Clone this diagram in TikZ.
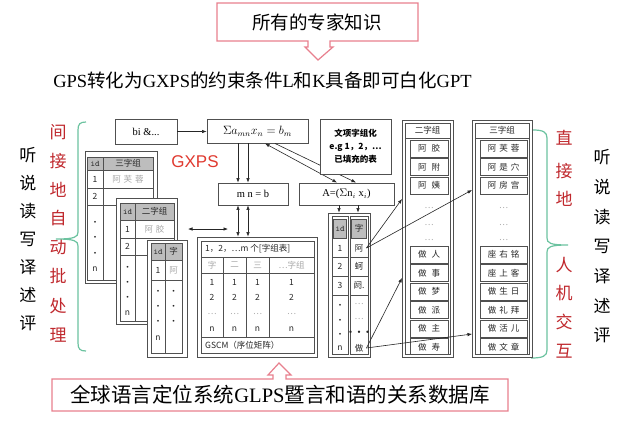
\documentclass[tikz,border=0pt]{standalone}
\usepackage{fontspec}
\setmainfont{Liberation Serif}
\newfontfamily\cjk{Noto Sans CJK SC}
\newfontfamily\sansf{Liberation Sans}
\usetikzlibrary{arrows.meta}
\definecolor{pinkc}{HTML}{E8808E}
\definecolor{greenc}{HTML}{6CC3A0}
\definecolor{redt}{HTML}{C0282D}
\definecolor{gxps}{HTML}{E03A30}
\definecolor{tline}{HTML}{505050}
\definecolor{hdr}{HTML}{BDBDBD}
\definecolor{faint}{HTML}{A8A8A8}
\begin{document}
\begin{tikzpicture}[x=1pt,y=-1pt,
  box/.style={draw=tline, line width=0.9pt, fill=white, inner sep=0pt},
  tl/.style={draw=tline, line width=0.6pt},
  hd/.style={draw=tline, line width=0.6pt, fill=hdr},
  tx/.style={font=\cjk\fontsize{8.5}{9}\selectfont, inner sep=0pt, text=black!85},
  fx/.style={tx, text=faint},
  arr/.style={-{Latex[length=4.5pt,width=3.5pt]}, line width=0.6pt, draw=black!85},
  darr/.style={{Latex[length=4.5pt,width=3.5pt]}-{Latex[length=4.5pt,width=3.5pt]}, line width=0.6pt, draw=black!85},
  bx/.style={draw=tline, line width=0.9pt, fill=white, inner sep=1pt, font=\cjk\fontsize{10.5}{12}\selectfont},
  brace/.style={draw=greenc, line width=1.2pt},
  side/.style={font=\cjk\fontsize{17}{17}\selectfont, inner sep=0pt},
  redside/.style={side, text=redt},
  callout/.style={draw=pinkc, line width=1.2pt, fill=white}]
\useasboundingbox (0,0) rectangle (628,432);
\fill[white] (0,0) rectangle (628,432);

% ---------- top callout and title
\draw[callout] (217,3) -- (418,3) -- (418,41) -- (330,41) -- (330,47) -- (333,47) -- (318,60) -- (305,47) -- (308,47) -- (308,41) -- (217,41) -- cycle;
\node[font=\cjk\fontsize{18.5}{20}\selectfont] (know) at (317,22) {所有的专家知识};
\node[font=\fontsize{18.5}{20}\selectfont] (title) at (262.5,80) {GPS{\cjk 转化为}GXPS{\cjk 的约束条件}L{\cjk 和}K{\cjk 具备即可白化}GPT};

% ---------- bottom callout
\draw[callout] (52,379) -- (273,379) -- (273,375) -- (268,375) -- (279,363) -- (291,375) -- (286,375) -- (286,379) -- (508,379) -- (508,411) -- (52,411) -- cycle;
\node[font=\fontsize{20.5}{22}\selectfont] (db) at (280,395) {{\cjk 全球语言定位系统}GLPS{\cjk 暨言和语的关系数据库}};

% ---------- side texts
\foreach \c [count=\i from 0] in {听,说,读,写,译,述,评} {
  \node[side] (l\i) at (28,155+28*\i) {\c};
  \node[side] (r\i) at (602,157+29.8*\i) {\c};
}
\foreach \c/\y [count=\i] in {间/132,接/161,地/190,自/218,动/247,批/276,处/306,理/335}
  \node[redside] (lr\i) at (58,\y) {\c};
\foreach \c/\y [count=\i] in {直/138,接/171,地/199,人/265,机/293,交/322,互/351}
  \node[redside] (rr\i) at (564,\y) {\c};

% ---------- braces
\draw[brace] (86,122) .. controls (80,122) and (78,124) .. (78,130) -- (78,232)
  .. controls (78,237) and (75,239) .. (56,239)
  .. controls (75,239) and (78,241) .. (78,246) -- (78,343)
  .. controls (78,349) and (80,351) .. (86,351);
\draw[brace] (533,130) .. controls (543,130) and (547,132) .. (547,138) -- (547,238)
  .. controls (547,243) and (550,245) .. (568,245)
  .. controls (550,245) and (547,247) .. (547,252) -- (547,350)
  .. controls (547,356) and (543,358) .. (531,358);

% ---------- GXPS label
\node[font=\sansf\fontsize{17}{17}\selectfont, text=gxps] (gx) at (195,162) {GXPS};

% ---------- top row boxes
\node[bx, minimum width=62, minimum height=25] (bi) at (146,131.5) {\rmfamily bi \&...};
\node[bx, minimum width=101, minimum height=24] (sig) at (257.5,131) {\fontsize{11.5}{12}\selectfont$\Sigma a_{mn}x_n=b_m$};
\node[bx, minimum width=70, minimum height=22] (mn) at (253,194) {\rmfamily m n = b};
\node[bx, minimum width=95, minimum height=22] (A) at (346.5,194) {\rmfamily A=($\Sigma$n$_i$ x$_i$)};
\draw[arr] (bi.east) -- (sig.west |- bi.east);
\coordinate (d1) at (265,0); \coordinate (d2) at (275,0);
\coordinate (e1) at (337,0); \coordinate (e2) at (356,0);
\draw[darr] (sig.south -| d1) -- (A.north -| e1);
\draw[arr] (sig.south -| d2) -- (A.north -| e2);
\node[bx, minimum width=71, minimum height=55, align=center, font=\cjk\bfseries\fontsize{8.5}{13}\selectfont] (wx) at (355.5,146.5) {文项字组化\\e.g 1，2，…\\已填充的表};
\coordinate (v1) at (238,0); \coordinate (v2) at (248,0);
\draw[arr] (sig.south -| v1) -- (mn.north -| v1);
\draw[arr] (sig.south -| v2) -- (mn.north -| v2);

% ---------- left stacked tables
% table 1
\node[box, minimum width=72, minimum height=132] (t1) at (121,217) {};
\draw[tl] (87,157) rectangle (153,280);
\draw[hd] (87,157) rectangle (103,170); \draw[hd] (103,157) rectangle (153,170);
\draw[tl] (87,188) -- (153,188); \draw[tl] (87,205) -- (153,205); \draw[tl] (103,170) -- (103,280);
\node[tx] at (95,163.5) {\ttfamily id}; \node[tx] at (128,163.5) {三字组};
\node[tx] at (95,179) {1}; \node[fx] at (128,179) {阿\hspace{3pt}芙\hspace{3pt}蓉};
\node[tx] at (95,196.5) {2};
\foreach \y in {223,238,254} \node[tx] at (95,\y) {•};
\node[tx] at (95,269) {n};
% table 2
\node[box, minimum width=61, minimum height=126] (t2) at (146.5,261) {};
\draw[tl] (120,203) rectangle (174,321);
\draw[hd] (120,203) rectangle (135,220); \draw[hd] (135,203) rectangle (174,220);
\draw[tl] (120,238) -- (174,238); \draw[tl] (120,255) -- (174,255); \draw[tl] (135,220) -- (135,321);
\node[tx] at (127.5,211.5) {\ttfamily id}; \node[tx] at (154.5,211.5) {二字组};
\node[tx] at (127.5,229) {1}; \node[fx] at (154.5,229) {阿\hspace{3pt}胶};
\node[tx] at (127.5,246.5) {2};
\foreach \y in {268,283,298} \node[tx] at (127.5,\y) {•};
\node[tx] at (127.5,313) {n};
% table 3
\node[box, minimum width=40, minimum height=117] (t3) at (167,298.5) {};
\draw[tl] (151,243) rectangle (182,353);
\draw[hd] (151,243) rectangle (165,260); \draw[hd] (165,243) rectangle (182,260);
\draw[tl] (151,280) -- (182,280); \draw[tl] (165,260) -- (165,353);
\node[tx] at (158,251.5) {\ttfamily id}; \node[tx] at (173.5,251.5) {字};
\node[tx] at (158,270) {1}; \node[fx] at (173.5,270) {阿};
\foreach \y in {292,307,322} {\node[tx] at (158,\y) {•}; \node[tx] at (173.5,\y) {·};}
\node[tx] at (158,338) {n};
\coordinate (h1) at (188,229); \coordinate (h2) at (228,229);
\draw[darr] (h1) -- (h2);

% ---------- GSCM table
\node[box, minimum width=120, minimum height=120] (gs) at (257,297) {};
\draw[darr] (mn.south -| v1) -- (gs.north -| v1);
\draw[darr] (mn.south -| v2) -- (gs.north -| v2);
\draw[tl] (201,241) rectangle (314,353);
\foreach \y in {257,273,337} \draw[tl] (201,\y) -- (314,\y);
\foreach \x in {223,246,269} \draw[tl] (\x,257) -- (\x,337);
\node[tx, anchor=west] at (205,249) {1，2，…m 个[字组表]};
\node[fx] at (212,265) {字}; \node[fx] at (234.5,265) {二}; \node[fx] at (257.5,265) {三}; \node[fx] at (291.5,265) {…字组};
\foreach \x in {212,234.5,257.5,291.5} {
  \node[tx] at (\x,282) {1}; \node[tx] at (\x,297) {2};
  \node[fx] at (\x,314) {…}; \node[tx] at (\x,329) {n};
}
\node[tx, anchor=west] at (205,345) {GSCM（序位矩阵）};

% ---------- middle column table
\node[box, minimum width=42, minimum height=144] (col) at (349,285) {};
\coordinate (c1) at (339,0); \coordinate (c2) at (358,0);
\draw[arr] (A.south -| c1) -- (col.north -| c1);
\draw[arr] (A.south -| c2) -- (col.north -| c2);
\draw[tl] (332,216) rectangle (348,354);
\draw[tl] (350,216) rectangle (368,354);
\draw[hd] (333.5,219) rectangle (346.5,238); \draw[hd] (351.5,219) rectangle (366.5,238);
\foreach \y in {257,276,295} {\draw[tl] (332,\y) -- (348,\y); \draw[tl] (350,\y) -- (368,\y);}
\node[tx] at (340,228.5) {\ttfamily id}; \node[tx] at (359,228.5) {字};
\node[tx] at (340,248) {1}; \node[tx] at (340,266) {2}; \node[tx] at (340,285) {3};
\foreach \y in {306,321,335} \node[tx] at (340,\y) {·};
\node[tx] at (340,348) {n};
\node[tx] (ca) at (359,248) {阿};
\node[tx] at (359,266) {蚵};
\node[tx] at (359,285) {阏.};
\node[fx] at (359,304) {…}; \node[fx] at (359,319) {…};
\node[tx] at (359,333) {\bfseries •••};
\node[tx] (cz) at (359,348) {做};

% ---------- right tables
\node[box, minimum width=51, minimum height=237] (rt2) at (427.5,238.5) {};
\draw[tl] (405,123) rectangle (450,354);
\draw[tl] (405,138) -- (450,138);
\node[tx] at (427.5,130.5) {二字组};
\node[box, minimum width=60, minimum height=237] (rt3) at (502,238.5) {};
\draw[tl] (475,123) rectangle (529,354);
\draw[tl] (475,138) -- (529,138);
\node[tx] at (502,130.5) {三字组};
\begin{scope}
\clip (405,123) rectangle (450,354);
\foreach \w [count=\i from 0] in {阿\hspace{5pt}胶,阿\hspace{5pt}附,阿\hspace{5pt}姨} {
  \draw[tl] (410,140+18.5*\i) rectangle (448,157+18.5*\i);
  \node[tx] at (429,148.5+18.5*\i) {\w};
}
\foreach \w [count=\i from 0] in {做\hspace{5pt}人,做\hspace{5pt}事,做\hspace{5pt}梦,做\hspace{5pt}派,做\hspace{5pt}主,做\hspace{5pt}寿} {
  \draw[tl] (410,246+18.5*\i) rectangle (448,263+18.5*\i);
  \node[tx] at (429,254.5+18.5*\i) {\w};
}
\end{scope}
\begin{scope}
\clip (475,123) rectangle (529,354);
\foreach \w [count=\i from 0] in {阿\hspace{3pt}芙\hspace{3pt}蓉,阿\hspace{3pt}是\hspace{3pt}穴,阿\hspace{3pt}房\hspace{3pt}宫} {
  \draw[tl] (480,140+18.5*\i) rectangle (527,157+18.5*\i);
  \node[tx] at (503.5,148.5+18.5*\i) {\w};
}
\foreach \w [count=\i from 0] in {座\hspace{3pt}右\hspace{3pt}铭,座\hspace{3pt}上\hspace{3pt}客,做\hspace{3pt}生\hspace{3pt}日,做\hspace{3pt}礼\hspace{3pt}拜,做\hspace{3pt}活\hspace{3pt}儿,做\hspace{3pt}文\hspace{3pt}章} {
  \draw[tl] (480,246+18.5*\i) rectangle (527,263+18.5*\i);
  \node[tx] at (503.5,254.5+18.5*\i) {\w};
}
\end{scope}
\foreach \y in {208,225,240} {\node[fx] at (429,\y) {…}; \node[fx] at (503.5,\y) {…};}

% ---------- arrows from the column to the word tables
\coordinate (r2a) at (402,199); \coordinate (r3a) at (472,190);
\coordinate (r2b) at (402,278); \coordinate (r3b) at (472,334);
\draw[arr] (ca.east) ++(3,0) -- (r2a);
\draw[arr] (ca.east) ++(3,0) -- (r3a);
\draw[arr] (cz.east) ++(3,0) -- (r2b);
\draw[arr] (cz.east) ++(3,0) -- (r3b);
\end{tikzpicture}
\end{document}
